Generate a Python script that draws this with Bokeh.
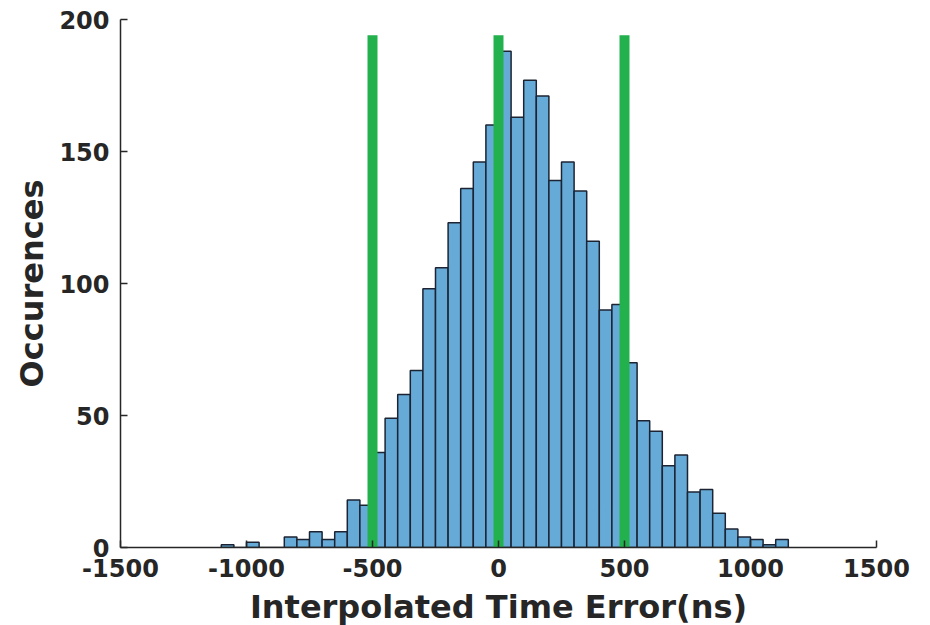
from bokeh.plotting import figure
from bokeh.models import Label, FixedTicker, GlobalInlineStyleSheet
from bokeh.embed import file_html
from bokeh.resources import INLINE

# Histogram data (bin left edges, width 50 ns) and counts
bin_width = 50
bin_left = [-1100, -1050, -1000, -950, -900, -850, -800, -750, -700, -650,
            -600, -550, -500, -450, -400, -350, -300, -250, -200, -150,
            -100, -50, 0, 50, 100, 150, 200, 250, 300, 350,
            400, 450, 500, 550, 600, 650, 700, 750, 800, 850,
            900, 950, 1000, 1050, 1100]
counts = [1, 0, 2, 0, 0, 4, 3, 6, 3, 6,
          18, 16, 36, 49, 58, 67, 98, 106, 123, 136,
          146, 160, 188, 163, 177, 171, 139, 146, 135, 116,
          90, 92, 70, 48, 44, 31, 35, 21, 22, 13,
          7, 4, 3, 1, 3]

marker_x = [-500, 0, 500]
marker_top = 194

x_ticks = [-1500, -1000, -500, 0, 500, 1000, 1500]
y_ticks = [0, 50, 100, 150, 200]

title_text = "Two-Channel Time Error"
x_label = "Interpolated Time Error(ns)"
y_label = "Occurences"

FONT = "DejaVu Sans"
TXT = "#262626"

p = figure(width=914, height=632, x_range=(-1500, 1500), y_range=(0, 200),
           output_backend="svg", toolbar_location=None,
           min_border_left=120, min_border_right=38,
           min_border_top=19, min_border_bottom=85)
p.stylesheets = [GlobalInlineStyleSheet(css="html, body { overflow: hidden; }")]

p.outline_line_color = None
p.xgrid.visible = False
p.ygrid.visible = False
p.background_fill_color = "white"

lefts = bin_left
rights = [b + bin_width for b in bin_left]
p.quad(left=lefts, right=rights, bottom=[0] * len(counts), top=counts,
       fill_color="#66AAD7", line_color="#1c2433", line_width=1.5)

p.segment(x0=marker_x, x1=marker_x, y0=[0] * len(marker_x),
          y1=[marker_top] * len(marker_x), line_color="#22B14C", line_width=10)

for ax in (p.xaxis[0], p.yaxis[0]):
    ax.axis_line_color = TXT
    ax.axis_line_width = 1.5
    ax.major_tick_line_color = TXT
    ax.major_tick_line_width = 1.5
    ax.major_tick_in = 7
    ax.major_tick_out = 0
    ax.minor_tick_line_color = None
    ax.major_label_text_font = FONT
    ax.major_label_text_font_style = "bold"
    ax.major_label_text_font_size = "24px"
    ax.major_label_text_color = TXT
    ax.axis_label_text_font = FONT
    ax.axis_label_text_font_style = "bold"
    ax.axis_label_text_font_size = "32px"
    ax.axis_label_text_color = TXT

p.xaxis.ticker = FixedTicker(ticks=x_ticks)
p.yaxis.ticker = FixedTicker(ticks=y_ticks)
p.xaxis.major_label_overrides = {t: str(t) for t in x_ticks}
p.yaxis.major_label_overrides = {t: str(t) for t in y_ticks}
p.xaxis.axis_label = x_label
p.yaxis.axis_label = y_label
p.xaxis.major_label_standoff = 11
p.xaxis.axis_label_standoff = 8
p.yaxis.major_label_standoff = 11
p.yaxis.axis_label_standoff = 5

title = Label(x=0, y=206, text=title_text, text_align="center",
              text_baseline="alphabetic", text_font=FONT,
              text_font_style="bold", text_font_size="34px", text_color=TXT)
p.add_layout(title)

open("out.html", "w").write(file_html(p, INLINE))
